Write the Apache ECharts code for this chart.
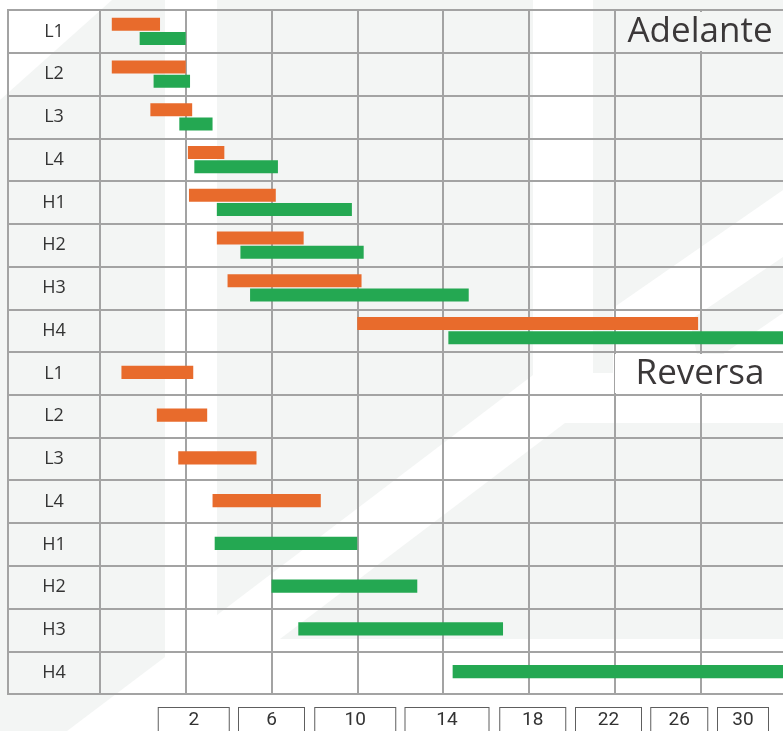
<!DOCTYPE html>
<html>
<head>
<meta charset="utf-8">
<script src="https://cdn.jsdelivr.net/npm/echarts@6/dist/echarts.min.js"></script>
<style>
  html, body { margin: 0; padding: 0; background: #ffffff; }
  #chart { width: 783px; height: 731px; }
</style>
</head>
<body>
<div id="chart"></div>
<script>
// ---- Data ----
const categorias = ['L1', 'L2', 'L3', 'L4', 'H1', 'H2', 'H3', 'H4'];
// Adelante: [inicio, fin]
const adelanteNaranja = [[-1.45, 0.8], [-1.45, 2.0], [0.35, 2.3], [2.1, 3.8], [2.15, 6.2], [3.45, 7.5], [3.95, 10.2], [10.0, 25.9]];
const adelanteVerde = [[-0.15, 2.0], [0.5, 2.2], [1.7, 3.25], [2.4, 6.3], [3.45, 9.75], [4.55, 10.3], [5.0, 15.2], [14.25, 30]];
// Reversa: L1-L4 naranja, H1-H4 verde
const reversaNaranja = [[-1.0, 2.35], [0.65, 3.0], [1.65, 5.3], [3.25, 8.3]];
const reversaVerde = [[3.35, 10.0], [6.0, 12.8], [7.25, 16.8], [14.45, 30]];
const etiquetasX = [2, 6, 10, 14, 18, 22, 26, 30];
const titulos = ['Adelante', 'Reversa'];

// ---- Build ----
const filas = categorias.map(c => 'A-' + c).concat(categorias.map(c => 'R-' + c));
const datosNaranja = adelanteNaranja.map((d, i) => [d[0], d[1], i])
  .concat(reversaNaranja.map((d, i) => [d[0], d[1], 8 + i]));
const datosVerde = adelanteVerde.map((d, i) => [d[0], d[1], i])
  .concat(reversaVerde.map((d, i) => [d[0], d[1], 12 + i]));

const X_MIN = -2, X_MAX = 30, X_STEP = 4;
const ultimo = etiquetasX[etiquetasX.length - 1];

// label box styling (width, horizontal shift)
const cajaEstilo = {2: [72, 8], 6: [67, 0], 10: [82, -2], 14: [85, 4], 18: [67, 4], 22: [67, -6], 26: [58, -21], 30: [52, -43]};
const rich = {};
etiquetasX.forEach(v => {
  const [w, d] = cajaEstilo[v];
  rich['b' + v] = {
    width: w - 2, height: 24, lineHeight: 24, align: 'center',
    borderColor: '#5e5e5e', borderWidth: 1, color: '#333333',
    fontSize: 19, fontFamily: 'Roboto, sans-serif', backgroundColor: '#ffffff'
  };
  rich['s' + v] = { width: Math.max(1, Math.abs(d) * 2), height: 24 };
});
function etiquetaCaja(v) {
  const d = cajaEstilo[v][1];
  if (d === 0) return '{b' + v + '|' + v + '}';
  return d > 0 ? '{s' + v + '| }{b' + v + '|' + v + '}' : '{b' + v + '|' + v + '}{s' + v + '| }';
}

const GRID_LINE = '#a3a3a3';
const NARANJA = '#e86b2c';
const VERDE = '#24a852';

function renderItem(params, api) {
  const row = api.value(2);
  const p0 = api.coord([api.value(0), row]);
  const p1 = api.coord([api.value(1), row]);
  const band = api.size([0, 1])[1];
  const h = band * 0.305;
  let y;
  if (row < 8) {
    y = params.seriesIndex === 0 ? p0[1] - h - band * 0.012 : p0[1] + band * 0.012;
  } else {
    y = p0[1] - h / 2 - 1;
  }
  const rect = echarts.graphic.clipRectByRect(
    { x: p0[0], y: y, width: p1[0] - p0[0], height: h },
    { x: params.coordSys.x, y: params.coordSys.y, width: params.coordSys.width, height: params.coordSys.height }
  );
  return rect && { type: 'rect', shape: rect, style: api.style() };
}

const GREY_BG = '#f3f5f4';
const bgShapes = [
  [[0, 100], [112, 0], [165, 0], [165, 657], [67, 731], [0, 731]],
  [[217, 0], [533, 0], [533, 375], [217, 615]],
  [[593, 0], [783, 0], [783, 190], [613, 308], [613, 373], [593, 373]],
  [[690, 320], [783, 257], [783, 313], [700, 370]],
  [[280, 639], [565, 423], [783, 423], [783, 639]]
];

const labelAxisBase = {
  gridIndex: 1, type: 'value', min: X_MIN, max: X_MAX, interval: X_STEP, position: 'bottom', offset: 0,
  axisLine: { show: false }, axisTick: { show: false }
};

const chart = echarts.init(document.getElementById('chart'), null, { renderer: 'canvas' });
const option = {
  backgroundColor: '#ffffff',
  animation: false,
  graphic: [
    ...bgShapes.map(pts => ({
      type: 'polygon', z: -10, silent: true,
      shape: { points: pts }, style: { fill: GREY_BG }
    })),
    { type: 'rect', z: 1, silent: true, shape: { x: 697, y: 12, width: 7, height: 39 }, style: { fill: GREY_BG } },
    { type: 'rect', z: 1, silent: true, shape: { x: 615, y: 354, width: 168, height: 39 }, style: { fill: '#ffffff' } },
    { type: 'text', z: 5, style: { text: titulos[0], x: 700, y: 32, align: 'center', verticalAlign: 'middle',
      fontSize: 35, fontFamily: '"Open Sans", sans-serif', fill: '#3b3839' } },
    { type: 'text', z: 5, style: { text: titulos[1], x: 700, y: 374, align: 'center', verticalAlign: 'middle',
      fontSize: 35, fontFamily: '"Open Sans", sans-serif', fill: '#3b3839' } }
  ],
  grid: [
    { left: 8, top: 10, width: 92, height: 684, show: true, borderColor: GRID_LINE, borderWidth: 2,
      backgroundColor: 'transparent', outerBoundsMode: 'none', containLabel: false },
    { left: 100, top: 10, width: 686, height: 684, show: true, borderColor: GRID_LINE, borderWidth: 2,
      backgroundColor: 'transparent', outerBoundsMode: 'none', containLabel: false }
  ],
  xAxis: [
    { gridIndex: 0, type: 'value', min: 0, max: 1, show: false },
    Object.assign({}, labelAxisBase, {
      splitLine: { show: true, lineStyle: { color: GRID_LINE, width: 2 } },
      axisLabel: {
        margin: 14, showMinLabel: true, showMaxLabel: true, hideOverlap: false,
        formatter: v => (etiquetasX.indexOf(v) >= 0 && v !== ultimo) ? etiquetaCaja(v) : '',
        rich: rich
      }
    }),
    Object.assign({}, labelAxisBase, {
      splitLine: { show: false },
      axisLabel: {
        margin: 14, showMinLabel: true, showMaxLabel: true, hideOverlap: false,
        formatter: v => (v === ultimo) ? etiquetaCaja(v) : '',
        rich: rich
      }
    })
  ],
  yAxis: [
    {
      gridIndex: 0, type: 'category', data: filas, inverse: true,
      axisLine: { show: false }, axisTick: { show: false }, axisLabel: { show: false },
      splitLine: { show: true, interval: 0, lineStyle: { color: GRID_LINE, width: 2 } }
    },
    {
      gridIndex: 1, type: 'category', data: filas, inverse: true,
      axisLine: { show: false }, axisTick: { show: false },
      axisLabel: {
        interval: 0, margin: 46, align: 'center',
        fontSize: 18, fontFamily: '"Open Sans", sans-serif', color: '#333333',
        formatter: v => v.slice(2)
      },
      splitLine: { show: true, interval: 0, lineStyle: { color: GRID_LINE, width: 2 } }
    }
  ],
  series: [
    {
      type: 'custom', xAxisIndex: 1, yAxisIndex: 1, renderItem: renderItem,
      itemStyle: { color: NARANJA }, encode: { x: [0, 1], y: 2 }, data: datosNaranja, z: 3
    },
    {
      type: 'custom', xAxisIndex: 1, yAxisIndex: 1, renderItem: renderItem,
      itemStyle: { color: VERDE }, encode: { x: [0, 1], y: 2 }, data: datosVerde, z: 3
    }
  ]
};
chart.setOption(option);
</script>
</body>
</html>
